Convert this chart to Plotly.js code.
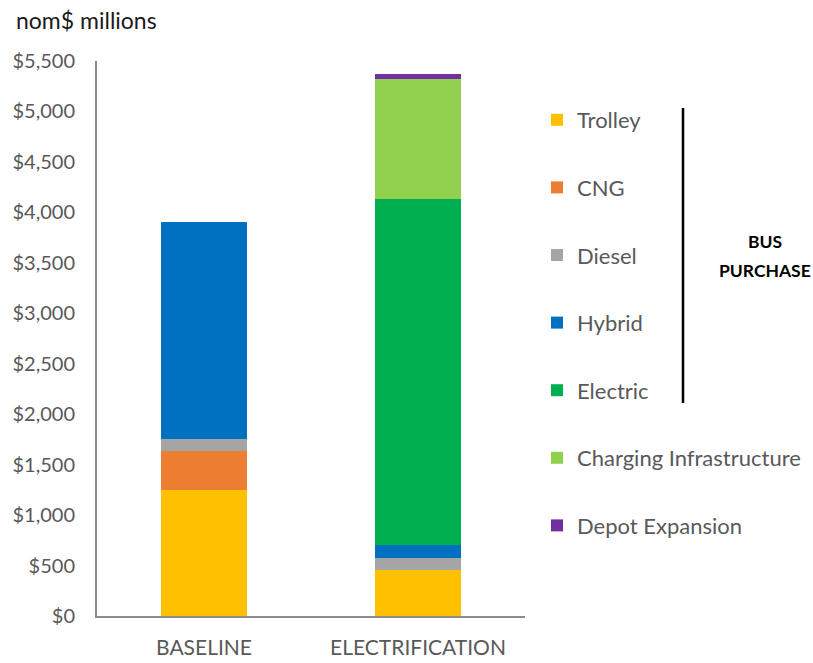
<!DOCTYPE html>
<html>
<head>
<meta charset="utf-8">
<script src="https://cdn.plot.ly/plotly-3.0.1.min.js"></script>
<style>html,body{margin:0;padding:0;background:#fff;}#chart{width:813px;height:663px;}</style>
</head>
<body>
<div id="chart"></div>
<script>
const categories = ["BASELINE", "ELECTRIFICATION"];
const seriesNames = ["Trolley", "CNG", "Diesel", "Hybrid", "Electric", "Charging Infrastructure", "Depot Expansion"];
const trolley = [1250, 460];
const cng = [390, 0];
const diesel = [110, 110];
const hybrid = [2150, 130];
const electric = [0, 3430];
const charging = [0, 1190];
const depot = [0, 50];
const tickVals = [0, 500, 1000, 1500, 2000, 2500, 3000, 3500, 4000, 4500, 5000, 5500];
const tickText = ["$0", "$500", "$1,000", "$1,500", "$2,000", "$2,500", "$3,000", "$3,500", "$4,000", "$4,500", "$5,000", "$5,500"];
const yTitle = "nom$ millions";
const bracketLine1 = "BUS";
const bracketLine2 = "PURCHASE";

const seriesValues = [trolley, cng, diesel, hybrid, electric, charging, depot];
const colors = ["#FFC000", "#ED7D31", "#A5A5A5", "#0070C0", "#00B050", "#92D050", "#7030A0"];

const FONT = "Lato, 'Open Sans', sans-serif";
const traces = seriesNames.map((name, i) => ({
  type: "bar",
  name: name,
  x: categories,
  y: seriesValues[i],
  marker: {color: colors[i], line: {width: 0}},
  legendgroup: "g" + i,
  hoverinfo: "name+y"
}));

const px = (x) => (x - 97) / 428;
const py = (y) => (616 - y) / 555;

const layout = {
  width: 813, height: 663,
  margin: {l: 97, r: 288, t: 61, b: 47, autoexpand: false},
  barmode: "stack",
  bargap: 0.6,
  paper_bgcolor: "#fff",
  plot_bgcolor: "#fff",
  font: {family: FONT, color: "#595959", size: 20},
  showlegend: true,
  legend: {
    x: px(537), xanchor: "left",
    y: py(99), yanchor: "top",
    traceorder: "grouped",
    tracegroupgap: 36,
    font: {family: FONT, size: 22, color: "#595959"},
    itemwidth: 30,
    bgcolor: "rgba(0,0,0,0)"
  },
  xaxis: {
    type: "category",
    range: [-0.5, 1.5],
    showline: true, linecolor: "#8c8c8c", linewidth: 2,
    showgrid: false, zeroline: false, ticks: "",
    tickfont: {family: FONT, size: 21, color: "#595959"},
    ticklabelstandoff: 12
  },
  yaxis: {
    range: [0, 5500],
    tickvals: tickVals, ticktext: tickText,
    showline: true, linecolor: "#8c8c8c", linewidth: 2,
    showgrid: false, zeroline: false, ticks: "",
    tickfont: {family: FONT, size: 20, color: "#595959"},
    ticklabelstandoff: 16
  },
  shapes: [
    {type: "line", xref: "paper", yref: "paper", x0: px(683), x1: px(683), y0: py(108), y1: py(403),
     line: {color: "#000", width: 2.5}}
  ],
  annotations: [
    {xref: "paper", yref: "paper", x: px(14), y: py(20), xanchor: "left", yanchor: "middle",
     text: yTitle, showarrow: false, font: {family: FONT, size: 23, color: "#1a1a1a"}},
    {xref: "paper", yref: "paper", x: px(765), y: py(241), xanchor: "center", yanchor: "middle",
     text: "<b>" + bracketLine1 + "</b>", showarrow: false, font: {family: FONT, size: 17.5, color: "#000"}},
    {xref: "paper", yref: "paper", x: px(765), y: py(270), xanchor: "center", yanchor: "middle",
     text: "<b>" + bracketLine2 + "</b>", showarrow: false, font: {family: FONT, size: 17.5, color: "#000"}}
  ]
};

Plotly.newPlot("chart", traces, layout, {displayModeBar: false, staticPlot: true});
</script>
</body>
</html>
